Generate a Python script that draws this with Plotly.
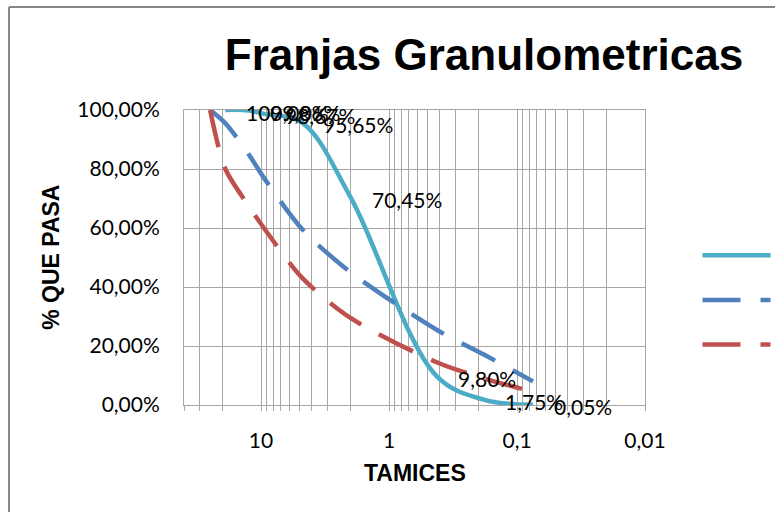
import numpy as np
import plotly.graph_objects as go

# ---------------- data ----------------
SIEVES_SAMPLE = [19.0, 12.5, 9.5, 4.75, 2.0, 0.425, 0.18, 0.075]
PASS_SAMPLE = [100.00, 99.86, 98.67, 95.65, 70.45, 9.80, 1.75, 0.05]
SAMPLE_LABELS = ["100,00%", "99,86%", "98,67%", "95,65%", "70,45%", "9,80%", "1,75%", "0,05%"]

SIEVES_BAND = [25.0, 19.0, 12.5, 9.5, 4.75, 2.0, 0.425, 0.18, 0.075]
UPPER_LIMIT = [100, 95.5, 85, 77, 59.5, 45, 25.5, 17, 8]
LOWER_LIMIT = [100, 80, 67.5, 60, 43, 29.5, 14.5, 9, 4.5]

SERIES_NAMES = ["Muestra", "Límite superior", "Límite inferior"]

X_TICK_VALS = [10, 1, 0.1, 0.01]
X_TICK_TEXT = ["10", "1", "0,1", "0,01"]
X_MINOR_VALS = [0.02, 0.03, 0.04, 0.05, 0.06, 0.07, 0.08, 0.09,
                0.2, 0.3, 0.4, 0.5, 0.6, 0.7, 0.8, 0.9,
                2, 3, 4, 5, 6, 7, 8, 9,
                20, 30, 40]
Y_TICK_VALS = [0, 20, 40, 60, 80, 100]
Y_TICK_TEXT = ["0,00%", "20,00%", "40,00%", "60,00%", "80,00%", "100,00%"]

# ---------------- style ----------------
CYAN = "#4BACC6"
BLUE = "#4F81BD"
RED = "#C0504D"
GRID = "#A6A6A6"
BORDER = "#868686"
TXT_FONT = "Lato"
BOLD_FONT = "Liberation Sans"

fig = go.Figure()
fig.add_trace(go.Scatter(x=SIEVES_SAMPLE, y=PASS_SAMPLE, mode="lines", name=SERIES_NAMES[0],
                         line=dict(color=CYAN, width=4.5, shape="spline", smoothing=1.0)))
fig.add_trace(go.Scatter(x=SIEVES_BAND, y=UPPER_LIMIT, mode="lines", name=SERIES_NAMES[1],
                         line=dict(color=BLUE, width=4.5, dash="38px,20px", shape="spline", smoothing=0.8)))
fig.add_trace(go.Scatter(x=SIEVES_BAND, y=LOWER_LIMIT, mode="lines", name=SERIES_NAMES[2],
                         line=dict(color=RED, width=4.5, dash="38px,20px", shape="spline", smoothing=0.8)))

annotations = []
for d, v, t in zip(SIEVES_SAMPLE, PASS_SAMPLE, SAMPLE_LABELS):
    annotations.append(dict(x=np.log10(d), y=v, xref="x", yref="y", text=t, showarrow=False,
                            xanchor="left", yanchor="middle", xshift=19, yshift=-2,
                            font=dict(family=TXT_FONT, size=21, color="#000000")))

annotations.append(dict(x=-0.29, y=0.5, xref="paper", yref="paper", text="% QUE PASA",
                        textangle=-90, showarrow=False, xanchor="center", yanchor="middle",
                        font=dict(family=BOLD_FONT, size=23, color="#000000", weight="bold")))
annotations.append(dict(x=0.5, y=-0.23, xref="paper", yref="paper", text="TAMICES",
                        showarrow=False, xanchor="center", yanchor="middle",
                        font=dict(family=BOLD_FONT, size=23, color="#000000", weight="bold")))

# outer chart-area border (left and top edges visible, the rest runs off the canvas)
border = [
    dict(type="line", xref="paper", yref="paper", x0=-0.3796, y0=1.349, x1=-0.3796, y1=-0.5,
         line=dict(color=BORDER, width=2), layer="above"),
    dict(type="line", xref="paper", yref="paper", x0=-0.3796, y0=1.349, x1=1.5, y1=1.349,
         line=dict(color=BORDER, width=2), layer="above"),
]

fig.update_layout(
    width=775, height=512,
    margin=dict(l=184, r=130, t=110, b=107),
    paper_bgcolor="white", plot_bgcolor="white",
    title=dict(text="Franjas Granulometricas", x=0.6245, xref="container", xanchor="center",
               y=0.8926, yref="container", yanchor="middle",
               font=dict(family=BOLD_FONT, size=44, color="#000000", weight="bold")),
    showlegend=True,
    legend=dict(xref="container", yref="container", x=0.900, y=0.414, xanchor="left", yanchor="middle",
                font=dict(family=TXT_FONT, size=32, color="#000000"), itemwidth=68,
                bgcolor="rgba(0,0,0,0)", tracegroupgap=0),
    annotations=annotations,
    shapes=border,
)

fig.update_xaxes(type="log", range=[np.log10(40), np.log10(0.01)], autorange=False,
                 tickvals=X_TICK_VALS, ticktext=X_TICK_TEXT,
                 showgrid=True, gridcolor=GRID, gridwidth=1,
                 showline=True, linecolor=GRID, linewidth=1, mirror=True,
                 ticks="outside", ticklen=5, tickcolor=GRID,
                 minor=dict(tickvals=X_MINOR_VALS, showgrid=True, gridcolor=GRID, gridwidth=1,
                            ticks="outside", ticklen=5, tickcolor=GRID),
                 tickfont=dict(family=TXT_FONT, size=21, color="#000000"),
                 ticklabelstandoff=12, zeroline=False)
fig.update_yaxes(range=[0, 100], autorange=False, tickvals=Y_TICK_VALS, ticktext=Y_TICK_TEXT,
                 showgrid=True, gridcolor=GRID, gridwidth=1,
                 showline=True, linecolor=GRID, linewidth=1, mirror=True,
                 ticks="", tickfont=dict(family=TXT_FONT, size=21, color="#000000"),
                 ticklabelstandoff=19, zeroline=False)

fig.write_html("out.html", config={"displayModeBar": False},
               post_script="document.body.style.margin='0px';")
